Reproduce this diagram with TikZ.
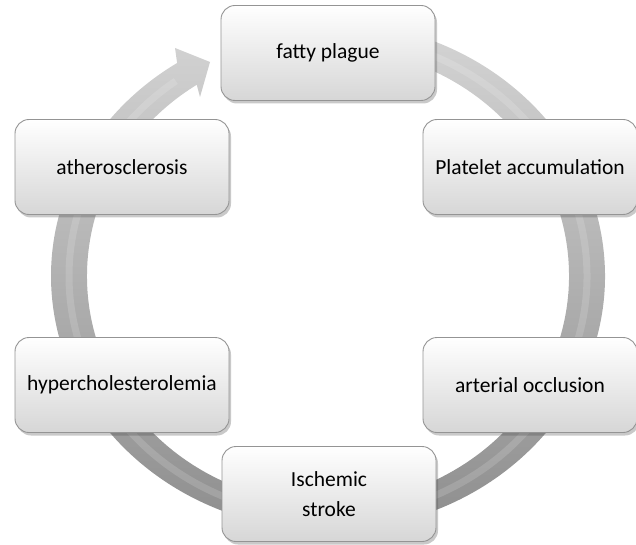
\documentclass[tikz,border=0pt]{standalone}
\usepackage{fontspec}
\setmainfont{Carlito}
\usetikzlibrary{shadows}

\begin{document}
\begin{tikzpicture}[x=1pt,y=1pt,
  stage/.style={rectangle, rounded corners=14pt, draw=black!42, line width=0.9pt,
    top color=white, bottom color=black!16, minimum width=214pt, minimum height=95pt,
    align=center, text=black, font=\fontsize{21.5}{30}\selectfont,
    drop shadow={shadow xshift=2pt, shadow yshift=-3pt, opacity=0.3, fill=black!70}}]

\useasboundingbox (0,0) rectangle (636,544);
\coordinate (ctr) at (328,268);

% ring arrow (behind the boxes)
\shade[top color=black!16, bottom color=black!45]
  ([shift={(95:277 and 254)}]ctr) arc[start angle=95, end angle=-237, x radius=277, y radius=254]
  -- (175,496) -- (210,482) -- (200,447)
  -- ([shift={(-237:241 and 228)}]ctr) arc[start angle=-237, end angle=95, x radius=241, y radius=228]
  -- cycle;
\draw[white, opacity=.15, line width=7pt]
  ([shift={(95:259 and 241)}]ctr) arc[start angle=95, end angle=-234, x radius=259, y radius=241];

% Steps
\path
(328,491)   node[stage] (fatty)    {fatty plague}
(530,377)   node[stage] (platelet) {Platelet accumulation}
(530,159)   node[stage] (occl)     {arterial occlusion}
(329,50)    node[stage] (stroke)   {Ischemic\\stroke}
(122,159)   node[stage] (hyper)    {hypercholesterolemia}
(122,377)   node[stage] (athero)   {atherosclerosis}
;

\end{tikzpicture}
\end{document}
